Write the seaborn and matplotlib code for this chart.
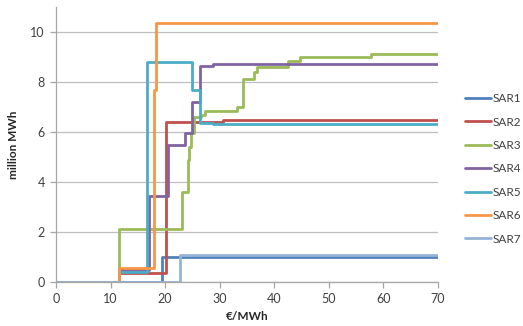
import matplotlib
matplotlib.use("Agg")
import matplotlib.pyplot as plt
import seaborn as sns
import pandas as pd

series_names = ["SAR1", "SAR2", "SAR3", "SAR4", "SAR5", "SAR6", "SAR7"]

sar1_x = [0, 19.4, 70]
sar1_y = [0, 0.99, 0.99]
sar2_x = [0, 11.6, 20.1, 30.6, 70]
sar2_y = [0, 0.38, 6.42, 6.47, 6.47]
sar3_x = [0, 11.6, 23.1, 24.1, 24.4, 24.8, 25.2, 26.6, 27.3, 33.1, 34.3, 36.2, 36.8, 42.6, 44.7, 57.7, 70]
sar3_y = [0, 2.12, 3.6, 4.9, 5.4, 5.95, 6.6, 6.7, 6.85, 7.0, 8.12, 8.4, 8.62, 8.85, 9.02, 9.13, 9.13]
sar4_x = [0, 11.6, 17.0, 20.5, 23.6, 25.0, 26.3, 28.8, 70]
sar4_y = [0, 0.48, 3.45, 5.48, 5.95, 7.22, 8.65, 8.74, 8.74]
sar5_x = [0, 11.6, 16.6, 16.75, 25.0, 26.3, 28.8, 70]
sar5_y = [0, 0.42, 7.6, 8.8, 7.7, 6.37, 6.33, 6.33]
sar6_x = [0, 11.5, 18.0, 18.3, 70]
sar6_y = [0, 0.58, 7.7, 10.38, 10.38]
sar7_x = [0, 22.8, 70]
sar7_y = [0, 1.08, 1.08]

colors = ["#4F81BD", "#C0504D", "#9BBB59", "#8064A2", "#4BACC6", "#F79646", "#95B3D7"]

xs = [sar1_x, sar2_x, sar3_x, sar4_x, sar5_x, sar6_x, sar7_x]
ys = [sar1_y, sar2_y, sar3_y, sar4_y, sar5_y, sar6_y, sar7_y]

rows = []
for name, xv, yv in zip(series_names, xs, ys):
    for a, b in zip(xv, yv):
        rows.append({"price": a, "volume": b, "series": name})
df = pd.DataFrame(rows)

sns.set_theme(style="white")
plt.rcParams["font.family"] = ["Lato", "DejaVu Sans"]

fig = plt.figure(figsize=(5.23, 3.26), dpi=100)
ax = fig.add_axes([56 / 523, 1 - 282 / 326, (438 - 56) / 523, (282 - 7) / 326])

sns.lineplot(data=df, x="price", y="volume", hue="series", hue_order=series_names,
             palette=colors, estimator=None, drawstyle="steps-post", linewidth=2.0,
             ax=ax, legend=True)

ax.set_xlim(0, 70)
ax.set_ylim(0, 11)
ax.set_xticks(range(0, 71, 10))
ax.set_yticks([0, 2, 4, 6, 8, 10])
ax.yaxis.grid(True, color="#BFBFBF", linewidth=0.9)
ax.set_axisbelow(True)
for s in ["top", "right"]:
    ax.spines[s].set_visible(False)
for s in ["left", "bottom"]:
    ax.spines[s].set_color("#A6A6A6")
    ax.spines[s].set_linewidth(0.9)
ax.tick_params(axis="both", which="major", length=4, width=0.9, color="#A6A6A6",
               labelsize=9, labelcolor="#404040", direction="out", pad=4)
ax.tick_params(left=True, bottom=True)
ax.set_xlabel("€/MWh", fontsize=8.5, fontweight="bold", color="#262626", labelpad=4)
ax.set_ylabel("million MWh", fontsize=8.5, fontweight="bold", color="#262626", labelpad=8)

handles, labels = ax.get_legend_handles_labels()
ax.get_legend().remove()
fig.legend(handles, labels, loc="center left", bbox_to_anchor=(465 / 523, 0.482),
           frameon=False, fontsize=8.5, labelspacing=1.05, handlelength=2.2,
           handletextpad=0.1, borderpad=0, borderaxespad=0, labelcolor="#404040")

fig.savefig("out.png", dpi=100)
